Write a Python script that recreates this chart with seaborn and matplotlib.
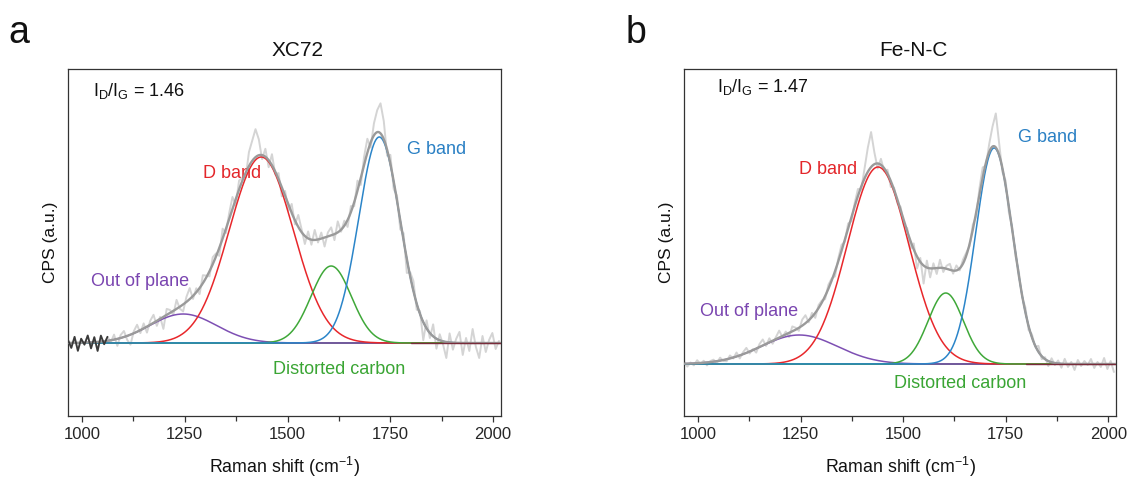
import numpy as np
import matplotlib
matplotlib.use("Agg")
import matplotlib.pyplot as plt
import seaborn as sns

# ---------------- data ----------------
panel_letters = ["a", "b"]
titles = ["XC72", "Fe-N-C"]
ratio_labels = ["1.46", "1.47"]
component_names = ["Out of plane", "D band", "Distorted carbon", "G band"]

# Gaussian components: centers (cm-1), heights (a.u.), sigmas (cm-1)
centers_a = [1246, 1436, 1606, 1723]
heights_a = [29, 186, 77, 206]
sigmas_a = [81, 78, 49, 50]

centers_b = [1247, 1439, 1604, 1722]
heights_b = [29, 197, 71, 216]
sigmas_b = [93, 75, 43, 45]

# raw spectrum: sampled every 8 cm-1 from 966 cm-1; residuals from the fitted envelope
raw_start, raw_step, raw_count = 966, 8, 132
resid_a = [3, -5, 6, -8, 4, -2, 7, -6, 5, -9, 6, -3, 4,
           -2, 5, -7, 3, 6, -4, -10, 2, 7, -3, 5, -6, 4, 8, -5, 2, -12, 6, 3, -4, 9, -2, -7, 5, 11, -3, 4, -6, 8, 2,
           -5, 7, 3, -8, 10, -4, 6, 12, -6, 9, 3, -5, 14, 20, 28, 16, -4, 8, -7, 11, -3, 6, -9, 5,
           -6, 9, -4, 12, 3, -8, 7, -5, 10, -3, 6, -9, 4, 8, -6, 11, -2, 5, -7,
           6, -4, 10, -7, 8, 14, -5, 12, 22, 30, 18, -6, 9, -8, 5,
           -9, 7, -14, 4, 10, -6, 3, -18, 8, -5, 12, -10, 6, -3, -16, 9, -7, 4, 11, -12, 5, -8, 14, -4, -15, 7, -9, 3, 10, -6, 2]
resid_b = [2, -3, 1, -2, 3, -1, 2, -3, 1, 2, -2, 3, -1,
           -2, 3, -1, 4, -3, 2, 5, -2, 1, -4, 3, 6, -2, 4, -3, 2, 7, -1, 3, -4, 5, 2, -3, 6, 8, -2, 4, -5, 3, 2,
           -3, 4, 2, -5, 3, 6, -2, 5, -4, 3, 7, -3, 10, 24, 35, 12, -5, 6, -3, 4, -6, 2, -4, 3,
           -5, 3, -8, 6, -12, 4, -18, 7, -9, 5, -6, 8, -4, 3, 6, -3, 5, -2, 4,
           3, -2, 5, -4, 6, 10, -3, 8, 20, 34, 12, -4, 5, -6, 3,
           -3, 4, -2, 5, -4, 3, -1, 6, -3, 2, -5, 4, -2, 3, -4, 5, -3, 2, -6, 4, -2, 3, -1, 5, -4, 2, -3, 6, -5, 3, -8]

dark_segment_end = [1062, None]   # dark overlay of raw data at the low-shift end (panel a only)

xlim = (966, 2019)
ylims = [(-73, 274), (-52, 295)]
xticks_major = [1000, 1250, 1500, 1750, 2000]
xticks_minor = [1125, 1375, 1625, 1875]

# label positions (data coords)
label_pos_a = {"Out of plane": (1021, 61), "D band": (1294, 170), "Distorted carbon": (1464, -27), "G band": (1791, 194)}
label_pos_b = {"Out of plane": (1004, 53), "D band": (1246, 194), "Distorted carbon": (1478, -19), "G band": (1781, 227)}
ratio_pos = [(0.058, 0.937), (0.076, 0.949)]

# ---------------- style ----------------
sns.set_theme(style="white")
plt.rcParams["font.family"] = ["Liberation Sans", "DejaVu Sans"]
plt.rcParams["mathtext.fontset"] = "custom"
plt.rcParams["mathtext.rm"] = "Liberation Sans"
plt.rcParams["mathtext.it"] = "Liberation Sans"

comp_colors = {"Out of plane": "#7d4fb3", "D band": "#e8272b", "Distorted carbon": "#3fa839", "G band": "#2b85c9"}
text_colors = {"Out of plane": "#7a45b0", "D band": "#e3262a", "Distorted carbon": "#3aa534", "G band": "#2a80c4"}

fig = plt.figure(figsize=(11.30, 4.79), dpi=100)
ax_a = fig.add_axes([68 / 1130, 63 / 479, 433 / 1130, 347 / 479])
ax_b = fig.add_axes([684 / 1130, 63 / 479, 432 / 1130, 347 / 479])
axes = [ax_a, ax_b]

params = [(centers_a, heights_a, sigmas_a, resid_a, label_pos_a),
          (centers_b, heights_b, sigmas_b, resid_b, label_pos_b)]

xf = np.linspace(xlim[0], xlim[1], 800)
raw_x = raw_start + raw_step * np.arange(raw_count)


def gauss(x, c, h, s):
    return h * np.exp(-0.5 * ((x - c) / s) ** 2)


for i, ax in enumerate(axes):
    cs, hs, ss, res, lpos = params[i]
    comps = [gauss(xf, c, h, s) for c, h, s in zip(cs, hs, ss)]
    total = np.sum(comps, axis=0)
    raw_fit = np.sum([gauss(raw_x, c, h, s) for c, h, s in zip(cs, hs, ss)], axis=0)
    raw_y = raw_fit + np.array(res, dtype=float)

    sns.lineplot(x=raw_x, y=raw_y, ax=ax, color="#d4d4d4", lw=1.4, estimator=None, sort=False, zorder=1)
    if dark_segment_end[i] is not None:
        m = raw_x <= dark_segment_end[i]
        sns.lineplot(x=raw_x[m], y=raw_y[m], ax=ax, color="#3a3a3a", lw=1.3, estimator=None, sort=False, zorder=6)

    # baselines
    sns.lineplot(x=[xlim[0], xlim[1]], y=[0, 0], ax=ax, color="#2f6e2f", lw=1.2, zorder=2)
    for name, comp in zip(component_names, comps):
        sns.lineplot(x=xf, y=comp, ax=ax, color=comp_colors[name], lw=1.1, estimator=None, sort=False, zorder=3)
    sns.lineplot(x=xf, y=total, ax=ax, color="#9a9a9a", lw=1.7, estimator=None, sort=False, zorder=4)
    sns.lineplot(x=[1800, xlim[1]], y=[0, 0], ax=ax, color="#7a2b3a", lw=1.0, zorder=5)

    for name in component_names:
        x0, y0 = lpos[name]
        ax.text(x0, y0, name, color=text_colors[name], fontsize=13, ha="left", va="center")

    ax.text(ratio_pos[i][0], ratio_pos[i][1], r"I$_{\mathrm{D}}$/I$_{\mathrm{G}}$ = " + ratio_labels[i],
            transform=ax.transAxes, fontsize=13, ha="left", va="center", color="#111111")

    ax.set_xlim(*xlim)
    ax.set_ylim(*ylims[i])
    ax.set_xticks(xticks_major)
    ax.set_xticklabels([str(t) for t in xticks_major])
    ax.set_xticks(xticks_minor, minor=True)
    ax.set_yticks([])
    ax.tick_params(axis="x", which="major", direction="out", length=4, width=0.9, color="#333333",
                   labelsize=12, pad=4, bottom=True)
    ax.tick_params(axis="x", which="minor", direction="out", length=3.5, width=0.9, color="#333333", bottom=True)
    for sp in ax.spines.values():
        sp.set_color("#333333")
        sp.set_linewidth(0.9)
    ax.set_xlabel(r"Raman shift (cm$^{-1}$)", fontsize=12.8, labelpad=9, color="#111111")
    ax.set_ylabel("CPS (a.u.)", fontsize=12.5, labelpad=7, color="#111111")
    ax.set_title(titles[i], fontsize=15, x=0.53, pad=9, color="#111111")

fig.text(8 / 1130, 1 - 43 / 479, panel_letters[0], fontsize=27, ha="left", va="baseline", color="#111111")
fig.text(626 / 1130, 1 - 43 / 479, panel_letters[1], fontsize=27, ha="left", va="baseline", color="#111111")

fig.savefig("out.png", dpi=100)
